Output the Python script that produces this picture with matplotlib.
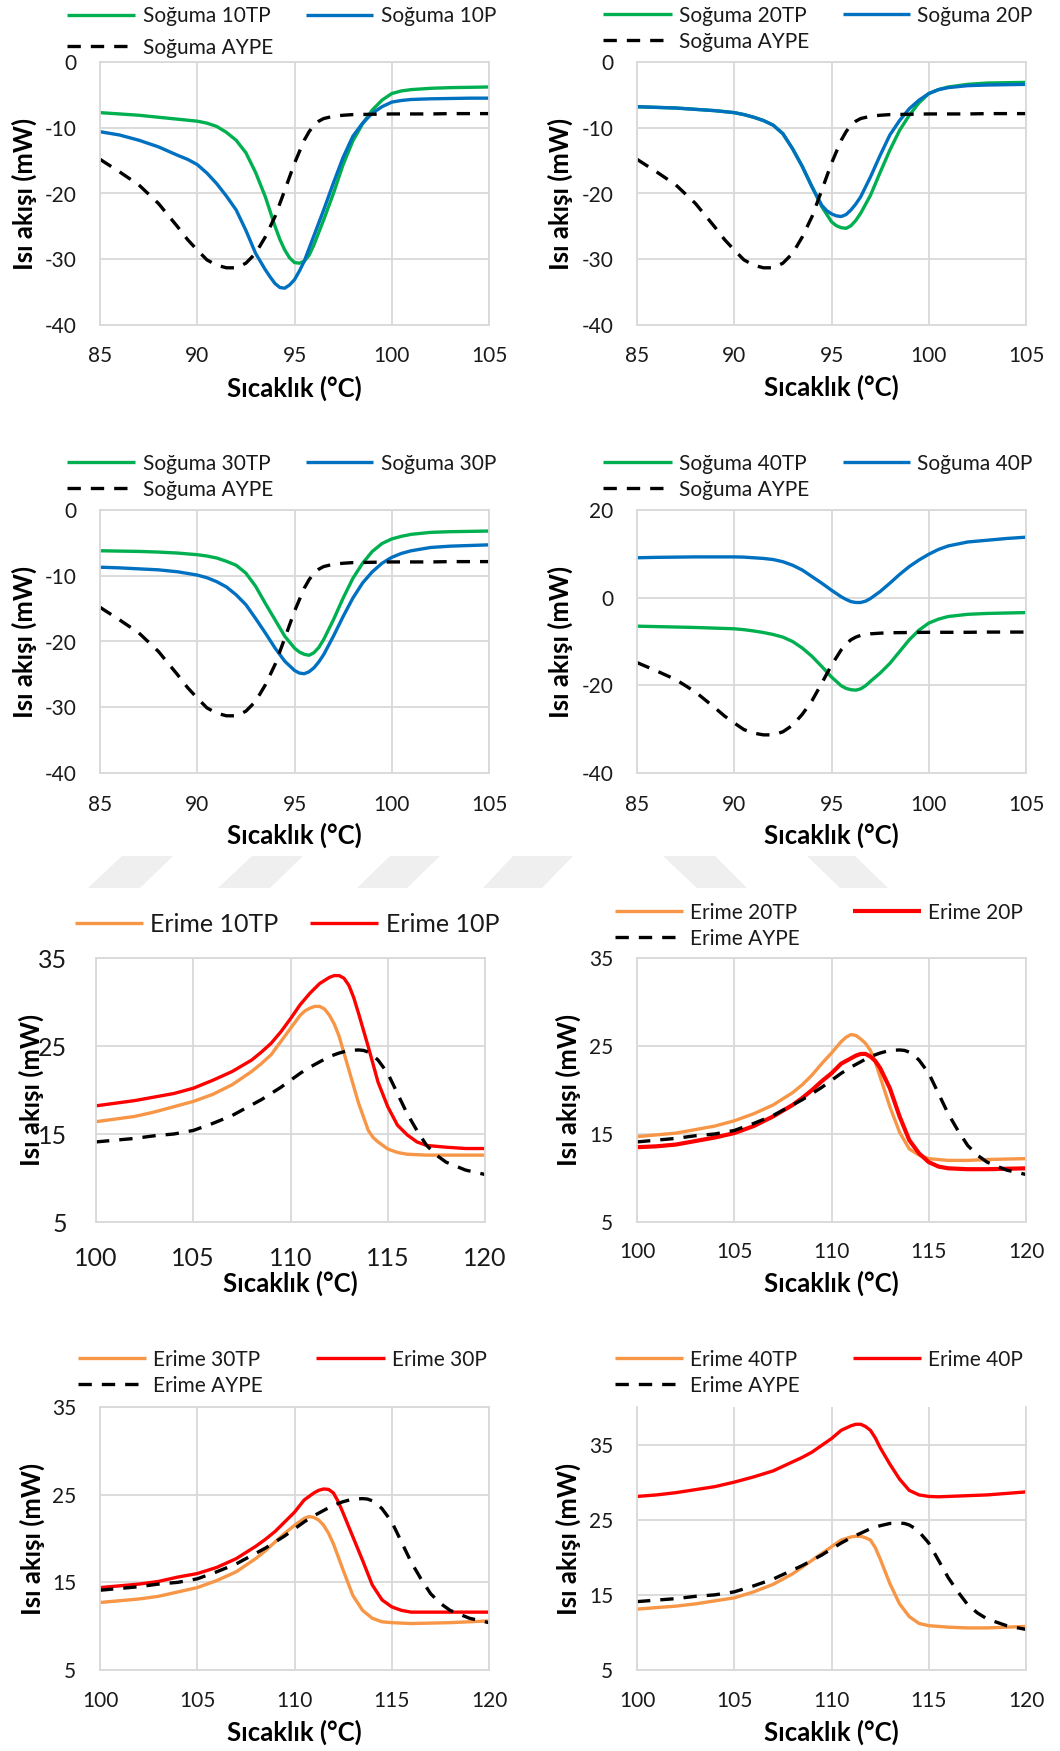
import matplotlib
matplotlib.use('Agg')
import matplotlib.pyplot as plt
from matplotlib.lines import Line2D
from matplotlib.patches import Polygon

plt.rcParams['font.family'] = ['Lato', 'DejaVu Sans']
plt.rcParams['axes.unicode_minus'] = False

W, H = 1060, 1751

# ---------------- data ----------------
# cooling curves: temperature (degC) and heat flow (mW)
cool_aype_x = [85, 86, 87, 88, 89, 89.5, 90, 90.5, 91, 91.5, 92, 92.5, 93, 93.5, 94, 94.5, 95, 95.5,
               95.75, 96, 96.25, 96.5, 97, 97.5, 98, 99, 100, 101, 102, 103, 104, 105]
cool_aype = [-14.8, -16.7, -18.7, -21.5, -25.1, -27.0, -28.6, -30.1, -30.9, -31.3, -31.3, -30.6,
             -29.1, -26.6, -23.5, -19.5, -15.4, -11.9, -10.6, -9.6, -9.0, -8.6, -8.25, -8.1, -8.0,
             -7.95, -7.9, -7.9, -7.9, -7.85, -7.85, -7.85]

cool_10tp_x = [85, 86, 87, 88, 89, 90, 90.5, 91, 91.5, 92, 92.5, 93, 93.5, 94, 94.25, 94.5, 94.75,
               95, 95.25, 95.5, 95.75, 96, 96.5, 97, 97.5, 98, 98.5, 99, 99.5, 100, 100.5, 101,
               102, 103, 104, 105]
cool_10tp = [-7.7, -7.9, -8.1, -8.4, -8.7, -9.0, -9.3, -9.8, -10.7, -11.9, -13.8, -16.8, -20.5,
             -25.0, -27.0, -28.6, -29.8, -30.5, -30.6, -30.3, -29.4, -27.8, -24.0, -20.0, -15.6,
             -12.0, -9.4, -7.3, -5.8, -4.8, -4.4, -4.2, -4.0, -3.9, -3.85, -3.8]

cool_10p_x = [85, 86, 87, 88, 89, 89.5, 90, 90.5, 91, 91.5, 92, 92.5, 93, 93.5, 93.75, 94, 94.25,
              94.5, 94.75, 95, 95.25, 95.5, 96, 96.5, 97, 97.5, 98, 98.5, 99, 99.5, 100, 100.5,
              101, 102, 103, 104, 105]
cool_10p = [-10.6, -11.1, -11.9, -12.9, -14.2, -14.8, -15.6, -16.9, -18.5, -20.4, -22.5, -25.6,
            -29.1, -31.6, -32.7, -33.7, -34.3, -34.4, -33.9, -33.1, -31.8, -30.3, -26.4, -22.5,
            -18.4, -14.5, -11.3, -9.3, -7.8, -6.8, -6.1, -5.85, -5.7, -5.6, -5.55, -5.5, -5.5]

cool_20tp_x = [85, 86, 87, 88, 89, 90, 90.5, 91, 91.5, 92, 92.5, 93, 93.5, 94, 94.5, 95, 95.25,
               95.5, 95.75, 96, 96.25, 96.5, 97, 97.5, 98, 98.5, 99, 99.5, 100, 100.5, 101, 102,
               103, 104, 105]
cool_20tp = [-6.8, -6.9, -7.0, -7.2, -7.4, -7.7, -8.0, -8.4, -8.9, -9.6, -10.9, -13.2, -15.9,
             -19.0, -22.0, -24.3, -24.9, -25.2, -25.3, -24.9, -24.1, -23.0, -20.3, -16.8, -13.4,
             -10.4, -8.1, -6.2, -4.8, -4.2, -3.8, -3.4, -3.2, -3.15, -3.1]

cool_20p_x = [85, 86, 87, 88, 89, 90, 90.5, 91, 91.5, 92, 92.5, 93, 93.5, 94, 94.5, 94.75, 95,
              95.25, 95.5, 95.75, 96, 96.25, 96.5, 97, 97.5, 98, 98.5, 99, 99.5, 100, 100.5, 101,
              102, 103, 104, 105]
cool_20p = [-6.8, -6.9, -7.0, -7.2, -7.4, -7.7, -8.0, -8.4, -8.9, -9.6, -10.9, -13.2, -15.9,
            -19.0, -21.8, -22.6, -23.1, -23.4, -23.5, -23.2, -22.5, -21.6, -20.5, -17.5, -14.2,
            -11.1, -8.9, -7.1, -5.8, -4.8, -4.2, -3.9, -3.6, -3.5, -3.45, -3.4]

cool_30_x = [85, 86, 87, 88, 89, 90, 90.5, 91, 91.5, 92, 92.5, 93, 93.5, 94, 94.5, 95, 95.25,
             95.5, 95.75, 96, 96.25, 96.5, 97, 97.5, 98, 98.5, 99, 99.5, 100, 100.5, 101, 102,
             103, 104, 105]
cool_30tp = [-6.2, -6.25, -6.3, -6.4, -6.55, -6.8, -7.0, -7.3, -7.8, -8.4, -9.6, -11.6, -14.2,
             -16.7, -19.2, -21.0, -21.6, -21.95, -22.1, -21.7, -20.9, -19.7, -16.7, -13.4, -10.4,
             -8.1, -6.3, -5.1, -4.4, -4.0, -3.7, -3.4, -3.3, -3.25, -3.2]
cool_30p = [-8.7, -8.8, -8.95, -9.1, -9.4, -9.9, -10.3, -10.9, -11.7, -12.9, -14.4, -16.5, -18.7,
            -21.0, -23.0, -24.4, -24.8, -24.9, -24.6, -24.0, -23.1, -22.0, -19.2, -16.2, -13.4,
            -11.1, -9.4, -8.1, -7.2, -6.6, -6.2, -5.7, -5.5, -5.4, -5.3]

cool_40_x = [85, 86, 87, 88, 89, 90, 90.5, 91, 91.5, 92, 92.5, 93, 93.5, 94, 94.5, 95, 95.5,
             95.75, 96, 96.25, 96.5, 96.75, 97, 97.5, 98, 98.5, 99, 99.5, 100, 100.5, 101, 102,
             103, 104, 105]
cool_40tp = [-6.5, -6.6, -6.7, -6.8, -6.95, -7.1, -7.3, -7.6, -7.95, -8.4, -9.0, -10.0, -11.5,
             -13.4, -15.7, -18.1, -20.1, -20.7, -21.0, -21.1, -20.8, -20.1, -19.1, -17.2, -15.0,
             -12.3, -9.6, -7.4, -5.8, -4.9, -4.3, -3.8, -3.6, -3.5, -3.4]
cool_40p = [9.1, 9.2, 9.25, 9.3, 9.3, 9.3, 9.25, 9.1, 8.95, 8.7, 8.2, 7.4, 6.3, 4.8, 3.3, 1.7,
            0.2, -0.4, -0.9, -1.1, -1.1, -0.8, -0.2, 1.4, 3.3, 5.3, 7.1, 8.6, 9.9, 11.0, 11.8,
            12.7, 13.1, 13.5, 13.8]

# melting curves
melt_aype_x = [100, 101, 102, 103, 104, 105, 106, 107, 108, 108.5, 109, 109.5, 110, 110.5, 111,
               111.5, 112, 112.5, 113, 113.5, 113.75, 114, 114.25, 114.5, 115, 115.5, 116, 116.5,
               117, 117.5, 118, 119, 120]
melt_aype = [14.1, 14.3, 14.5, 14.8, 15.0, 15.4, 16.2, 17.1, 18.3, 18.9, 19.6, 20.3, 21.1, 21.9,
             22.6, 23.2, 23.8, 24.2, 24.5, 24.55, 24.5, 24.3, 23.9, 23.4, 21.9, 19.6, 17.3, 15.4,
             13.7, 12.6, 11.8, 10.9, 10.4]

melt_10tp_x = [100, 101, 102, 103, 104, 105, 106, 107, 108, 108.5, 109, 109.5, 110, 110.5, 110.75,
               111, 111.25, 111.5, 111.75, 112, 112.25, 112.5, 113, 113.5, 114, 114.25, 114.5,
               115, 115.5, 116, 117, 118, 119, 120]
melt_10tp = [16.4, 16.7, 17.0, 17.5, 18.1, 18.7, 19.5, 20.6, 22.1, 23.0, 24.0, 25.5, 27.0, 28.5,
             29.0, 29.3, 29.5, 29.5, 29.2, 28.5, 27.5, 26.1, 22.3, 18.5, 15.4, 14.6, 14.1, 13.3,
             12.9, 12.7, 12.6, 12.6, 12.6, 12.6]

melt_10p_x = [100, 101, 102, 103, 104, 105, 106, 107, 108, 108.5, 109, 109.5, 110, 110.5, 111,
              111.5, 112, 112.25, 112.5, 112.75, 113, 113.25, 113.5, 114, 114.5, 115, 115.5, 116,
              116.5, 117, 118, 119, 120]
melt_10p = [18.2, 18.5, 18.8, 19.2, 19.6, 20.2, 21.1, 22.1, 23.4, 24.3, 25.3, 26.6, 28.1, 29.7,
            31.0, 32.1, 32.8, 33.0, 33.0, 32.7, 31.9, 30.5, 28.7, 24.9, 20.9, 18.1, 16.0, 14.9,
            14.1, 13.7, 13.5, 13.35, 13.35]

melt_20tp_x = [100, 101, 102, 103, 104, 105, 106, 107, 108, 108.5, 109, 109.5, 110, 110.5, 110.75,
               111, 111.25, 111.5, 111.75, 112, 112.25, 112.5, 113, 113.5, 114, 114.5, 115, 115.5,
               116, 117, 118, 119, 120]
melt_20tp = [14.7, 14.9, 15.1, 15.5, 15.9, 16.5, 17.3, 18.3, 19.7, 20.6, 21.7, 23.0, 24.2, 25.5,
             26.0, 26.3, 26.2, 25.8, 25.3, 24.5, 23.2, 21.5, 18.1, 15.2, 13.3, 12.6, 12.2, 12.1,
             12.0, 12.0, 12.1, 12.15, 12.2]

melt_20p_x = [100, 101, 102, 103, 104, 105, 106, 107, 108, 108.5, 109, 109.5, 110, 110.5, 111,
              111.25, 111.5, 111.75, 112, 112.25, 112.5, 113, 113.5, 114, 114.5, 115, 115.5, 116,
              117, 118, 119, 120]
melt_20p = [13.5, 13.6, 13.8, 14.2, 14.6, 15.1, 15.9, 17.0, 18.3, 19.1, 20.0, 21.0, 21.9, 23.0,
            23.6, 23.9, 24.1, 24.1, 23.8, 23.3, 22.5, 20.2, 17.0, 14.3, 12.8, 11.8, 11.3, 11.1,
            11.0, 11.0, 11.05, 11.1]

melt_30tp_x = [100, 101, 102, 103, 104, 105, 106, 107, 108, 108.5, 109, 109.5, 110, 110.5, 110.75,
               111, 111.25, 111.5, 111.75, 112, 112.5, 113, 113.5, 114, 114.5, 115, 116, 117,
               118, 119, 120]
melt_30tp = [12.7, 12.9, 13.1, 13.4, 13.9, 14.4, 15.2, 16.2, 17.7, 18.6, 19.6, 20.6, 21.5, 22.3,
             22.5, 22.4, 22.1, 21.5, 20.6, 19.4, 16.4, 13.5, 11.8, 10.9, 10.5, 10.4, 10.3, 10.35,
             10.4, 10.5, 10.6]

melt_30p_x = [100, 101, 102, 103, 104, 105, 106, 107, 108, 108.5, 109, 109.5, 110, 110.5, 111,
              111.25, 111.5, 111.75, 112, 112.25, 112.5, 113, 113.5, 114, 114.5, 115, 115.5, 116,
              117, 118, 119, 120]
melt_30p = [14.4, 14.6, 14.8, 15.1, 15.6, 16.0, 16.7, 17.7, 19.1, 19.9, 20.8, 21.9, 23.0, 24.4,
            25.2, 25.5, 25.65, 25.6, 25.2, 24.2, 22.9, 20.2, 17.5, 14.7, 13.0, 12.2, 11.8, 11.6,
            11.6, 11.6, 11.6, 11.6]

melt_40_x = [100, 101, 102, 103, 104, 105, 106, 107, 108, 108.5, 109, 109.5, 110, 110.5, 111,
             111.25, 111.5, 111.75, 112, 112.25, 112.5, 113, 113.5, 114, 114.5, 115, 115.5, 116,
             117, 118, 119, 120]
melt_40tp = [13.1, 13.3, 13.5, 13.8, 14.2, 14.6, 15.4, 16.4, 17.8, 18.7, 19.6, 20.5, 21.4, 22.3,
             22.7, 22.8, 22.8, 22.6, 22.3, 21.3, 19.8, 16.5, 13.8, 12.1, 11.2, 10.9, 10.8, 10.7,
             10.6, 10.6, 10.7, 10.8]
melt_40p = [28.1, 28.3, 28.6, 29.0, 29.4, 30.0, 30.7, 31.5, 32.7, 33.3, 34.0, 34.9, 35.8, 36.9,
            37.5, 37.7, 37.7, 37.4, 36.9, 35.9, 34.6, 32.4, 30.4, 28.9, 28.3, 28.1, 28.05, 28.1,
            28.2, 28.3, 28.5, 28.7]

cool_ticks = [85, 90, 95, 100, 105]
melt_ticks = [100, 105, 110, 115, 120]

GREEN, BLUE = '#00b050', '#0070c0'
ORANGE, RED = '#f79646', '#ff0000'
GRID = '#d9d9d9'
DASH = (0, (4, 3))

# ---------------- layout (pixel boxes) ----------------
panels = [
    dict(box=(100, 62, 489, 325), kind='cool', n='10',
         a=(cool_10tp_x, cool_10tp), b=(cool_10p_x, cool_10p),
         ylim=(-40, 0), yticks=[-40, -30, -20, -10, 0],
         cols=[(67, 135, 143), (306, 373, 381)], rows=(15, 46), ylx=24, xly=388, xty=356),
    dict(box=(637, 62, 1026, 325), kind='cool', n='20',
         a=(cool_20tp_x, cool_20tp), b=(cool_20p_x, cool_20p),
         ylim=(-40, 0), yticks=[-40, -30, -20, -10, 0],
         cols=[(603, 672, 679), (843, 910, 917)], rows=(14, 40), ylx=560, xly=387, xty=357),
    dict(box=(100, 510, 489, 773), kind='cool', n='30',
         a=(cool_30_x, cool_30tp), b=(cool_30_x, cool_30p),
         ylim=(-40, 0), yticks=[-40, -30, -20, -10, 0],
         cols=[(67, 135, 143), (306, 373, 381)], rows=(462, 488), ylx=24, xly=835, xty=805),
    dict(box=(637, 510, 1026, 773), kind='cool', n='40',
         a=(cool_40_x, cool_40tp), b=(cool_40_x, cool_40p),
         ylim=(-40, 20), yticks=[-40, -20, 0, 20],
         cols=[(603, 672, 679), (843, 910, 917)], rows=(462, 488), ylx=560, xly=835, xty=805),
    dict(box=(96, 958, 485, 1222), kind='melt', n='10',
         a=(melt_10tp_x, melt_10tp), b=(melt_10p_x, melt_10p),
         ylim=(5, 35), yticks=[5, 15, 25, 35], big=True,
         cols=[(75, 143, 150), (310, 378, 386)], rows=(923,), ylx=31, xly=1283, xty=1259),
    dict(box=(637, 958, 1026, 1222), kind='melt', n='20',
         a=(melt_20tp_x, melt_20tp), b=(melt_20p_x, melt_20p),
         ylim=(5, 35), yticks=[5, 15, 25, 35], redw=3.0,
         cols=[(615, 683, 690), (853, 921, 928)], rows=(911, 937), ylx=568, xly=1283, xty=1253),
    dict(box=(100, 1407, 489, 1670), kind='melt', n='30',
         a=(melt_30tp_x, melt_30tp), b=(melt_30p_x, melt_30p),
         ylim=(5, 35), yticks=[5, 15, 25, 35],
         cols=[(78, 146, 153), (316, 385, 392)], rows=(1358, 1384), ylx=32, xly=1732, xty=1701),
    dict(box=(637, 1407, 1026, 1670), kind='melt', n='40',
         a=(melt_40_x, melt_40tp), b=(melt_40_x, melt_40p),
         ylim=(5, 40), yticks=[5, 15, 25, 35], notop=True,
         cols=[(615, 683, 690), (853, 921, 928)], rows=(1358, 1384), ylx=568, xly=1732, xty=1701),
]

fig = plt.figure(figsize=(W / 100, H / 100), dpi=100)


def fx(x):
    return x / W


def fy(y):
    return 1 - y / H


# faint watermark band between the cooling and melting rows
wm = [[(88, 888), (140, 888), (173, 856), (122, 856)],
      [(218, 888), (270, 888), (303, 856), (252, 856)],
      [(357, 888), (407, 888), (440, 856), (390, 856)],
      [(483, 888), (542, 888), (573, 856), (513, 856)],
      [(697, 888), (747, 888), (715, 856), (663, 856)],
      [(840, 888), (888, 888), (855, 856), (807, 856)]]
for poly in wm:
    fig.add_artist(Polygon([(fx(x), fy(y)) for x, y in poly], closed=True,
                           transform=fig.transFigure, fc='#efefef', ec='none', zorder=0))

for p in panels:
    l, t, r, b = p['box']
    ax = fig.add_axes([fx(l), fy(b), (r - l) / W, (b - t) / H])
    big = p.get('big', False)
    fs = 18 if big else 15

    if p['kind'] == 'cool':
        ticks, word, ca, cb = cool_ticks, 'Soğuma', GREEN, BLUE
        aype = (cool_aype_x, cool_aype)
    else:
        ticks, word, ca, cb = melt_ticks, 'Erime', ORANGE, RED
        aype = (melt_aype_x, melt_aype)
    wb = p.get('redw', 2.4)

    la, = ax.plot(*p['a'], color=ca, lw=2.4, label=f"{word} {p['n']}TP")
    lb, = ax.plot(*p['b'], color=cb, lw=wb, label=f"{word} {p['n']}P")
    lc, = ax.plot(*aype, color='black', lw=2.4, ls=DASH, label=f"{word} AYPE")

    ax.set_xlim(ticks[0], ticks[-1])
    ax.set_ylim(*p['ylim'])
    ax.set_xticks(ticks)
    ax.set_yticks(p['yticks'])
    ax.grid(True, color=GRID, lw=1.3)
    ax.set_axisbelow(True)
    for s in ax.spines.values():
        s.set_color(GRID)
        s.set_linewidth(1.3)
    if p.get('notop'):
        ax.spines['top'].set_visible(False)

    ypad = 21 if big else 17
    xpad = (p['xty'] - b - fs / 0.72 * 0.36 - 3) * 0.72
    ax.tick_params(axis='y', length=0, labelsize=fs, pad=ypad, labelcolor='#1a1a1a')
    ax.tick_params(axis='x', length=0, labelsize=fs, pad=xpad, labelcolor='#1a1a1a')

    ax.set_xlabel('Sıcaklık (°C)', fontsize=18.5, fontweight='bold', va='center')
    ax.xaxis.set_label_coords(0.5, (b - p['xly']) / (b - t))
    ax.set_ylabel('Isı akışı (mW)', fontsize=18.5, fontweight='bold', va='center')
    ax.yaxis.set_label_coords((p['ylx'] - l) / (r - l), 0.5)

    # legend in Excel style: TP | P on the first row, AYPE below
    entries = [(la, 0, 0), (lb, 1, 0)]
    if len(p['rows']) > 1:
        entries.append((lc, 0, 1))
    for line, ci, ri in entries:
        hx0, hx1, tx = p['cols'][ci]
        y = p['rows'][ri]
        fig.add_artist(Line2D([fx(hx0), fx(hx1)], [fy(y), fy(y)], transform=fig.transFigure,
                              color=line.get_color(), lw=line.get_linewidth(),
                              ls=DASH if line is lc else '-', solid_capstyle='butt'))
        fig.text(fx(tx), fy(y + fs / 0.72 * 0.36), line.get_label(), fontsize=fs,
                 color='#1a1a1a', ha='left', va='baseline')

fig.savefig('out.png', dpi=100)
